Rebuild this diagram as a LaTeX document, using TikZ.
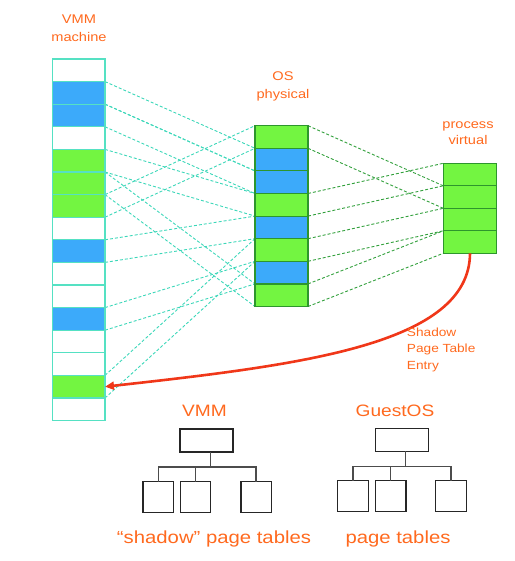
\documentclass[tikz,border=0pt]{standalone}
\usepackage{fontspec}
\setmainfont{Liberation Sans}[FakeStretch=1.16]
\usetikzlibrary{arrows.meta,backgrounds}
\definecolor{lborder}{RGB}{85,225,195}
\definecolor{cyandash}{RGB}{60,215,185}
\definecolor{mborder}{RGB}{45,150,45}
\definecolor{greendash}{RGB}{50,160,60}
\definecolor{greenc}{RGB}{115,245,65}
\definecolor{bluec}{RGB}{60,170,250}
\definecolor{orangetxt}{RGB}{255,105,30}
\definecolor{redarr}{RGB}{240,55,25}
\begin{document}
\begin{tikzpicture}[x=1bp,y=-1bp,
  lcell/.style={draw=lborder, line width=1.2bp, minimum width=52.7bp, minimum height=22.6bp, inner sep=0pt, outer sep=0pt},
  mcell/.style={draw=mborder, line width=1.2bp, minimum width=53bp, minimum height=22.6bp, inner sep=0pt, outer sep=0pt},
  rcell/.style={draw=mborder, fill=greenc, line width=1.2bp, minimum width=53.4bp, minimum height=22.5bp, inner sep=0pt, outer sep=0pt},
  cyanline/.style={draw=cyandash, line width=0.9bp, dash pattern=on 3bp off 2bp},
  greenline/.style={draw=greendash, line width=0.9bp, dash pattern=on 3bp off 2bp},
  small/.style={text=orangetxt, font=\fontsize{12.6bp}{15bp}\selectfont, inner sep=0pt, anchor=base},
  shadowtxt/.style={text=orangetxt, font=\fontsize{11.8bp}{14bp}\selectfont, inner sep=0pt, anchor=base west},
  heading/.style={text=orangetxt, font=\fontsize{16.5bp}{19bp}\selectfont, inner sep=0pt, anchor=base},
  caption/.style={text=orangetxt, font=\fontsize{17.5bp}{20bp}\selectfont, inner sep=0pt, anchor=base},
  redarrow/.style={draw=redarr, line width=2.6bp, -{Triangle[length=9bp,width=8bp]}},
  topbox/.style={draw=black!85, line width=1.2bp, minimum width=53bp, minimum height=23bp, inner sep=0pt, outer sep=0pt},
  leafbox/.style={draw=black!85, line width=1.2bp, minimum width=30.5bp, minimum height=30.8bp, inner sep=0pt, outer sep=0pt},
  treeline/.style={draw=black!70, line width=1.5bp}
]
\useasboundingbox (0,0) rectangle (515,561);

% column labels
\node[small] (lab1a) at (79,24) {VMM};
\node[small] (lab1b) at (79,41.7) {machine};
\node[small] (lab2a) at (283,80.7) {OS};
\node[small] (lab2b) at (283,98.3) {physical};
\node[small] (lab3a) at (468,128.3) {process};
\node[small] (lab3b) at (468,145) {virtual};

% left column (VMM machine)
\foreach \c [count=\i from 0] in {white,bluec,bluec,white,greenc,greenc,greenc,white,bluec,white,white,bluec,white,white,greenc,white}
  \node[lcell, fill=\c] (L\i) at (78.65,{70.3+22.6*\i}) {};

% middle column (OS physical)
\foreach \c [count=\i from 0] in {greenc,bluec,bluec,greenc,bluec,greenc,bluec,greenc}
  \node[mcell, fill=\c] (M\i) at (281.5,{137+22.6*\i}) {};

% right column (process virtual)
\foreach \i in {0,...,3}
  \node[rcell] (R\i) at (470,{174.55+22.5*\i}) {};

% mapping lines
\begin{scope}[on background layer]
\foreach \a/\b in {1/1,2/2,4/3,8/4,14/5,11/6,5/7,6/0} {
  \draw[cyanline] (L\a.north east) -- (M\b.north west);
  \draw[cyanline] (L\a.south east) -- (M\b.south west);
}
\foreach \a/\b in {0/1,3/0,5/2,7/3} {
  \draw[greenline] (M\a.north east) -- (R\b.north west);
  \draw[greenline] (M\a.south east) -- (R\b.south west);
}
\end{scope}

% shadow page table entry arrow
\draw[redarrow] (R3.south) .. controls (469.5,345) and (300,365) .. (L14.east);
\node[shadowtxt] (sh1) at (406.7,336) {Shadow};
\node[shadowtxt] (sh2) at (406.7,352.7) {Page Table};
\node[shadowtxt] (sh3) at (406.7,369.3) {Entry};

% VMM shadow page tables tree
\node[heading] (vmmh) at (204.5,416.7) {VMM};
\node[topbox] (vt) at (206.5,440.5) {};
\coordinate (vj) at (210.7,467);
\node[leafbox] (vc1) at (158.3,497.2) {};
\node[leafbox] (vc2) at (195.5,497.2) {};
\node[leafbox] (vc3) at (256.2,497.2) {};
\draw[treeline] (vj |- vt.south) -- (vj);
\draw[treeline] (vc1.north) -- (vc1.north |- vj) -- (vc3.north |- vj) -- (vc3.north);
\draw[treeline] (vc2.north) -- (vc2.north |- vj);
\node[caption] (vcap) at (214,543.5) {“shadow” page tables};

% GuestOS page tables tree
\node[heading] (gh) at (395,416.7) {GuestOS};
\node[topbox] (gt) at (401.8,439.7) {};
\coordinate (gj) at (405.3,466.7);
\node[leafbox] (gc1) at (353,495.9) {};
\node[leafbox] (gc2) at (390.7,495.9) {};
\node[leafbox] (gc3) at (450.9,495.9) {};
\draw[treeline] (gj |- gt.south) -- (gj);
\draw[treeline] (gc1.north) -- (gc1.north |- gj) -- (gc3.north |- gj) -- (gc3.north);
\draw[treeline] (gc2.north) -- (gc2.north |- gj);
\node[caption] (gcap) at (398,543.5) {page tables};
\end{tikzpicture}
\end{document}
